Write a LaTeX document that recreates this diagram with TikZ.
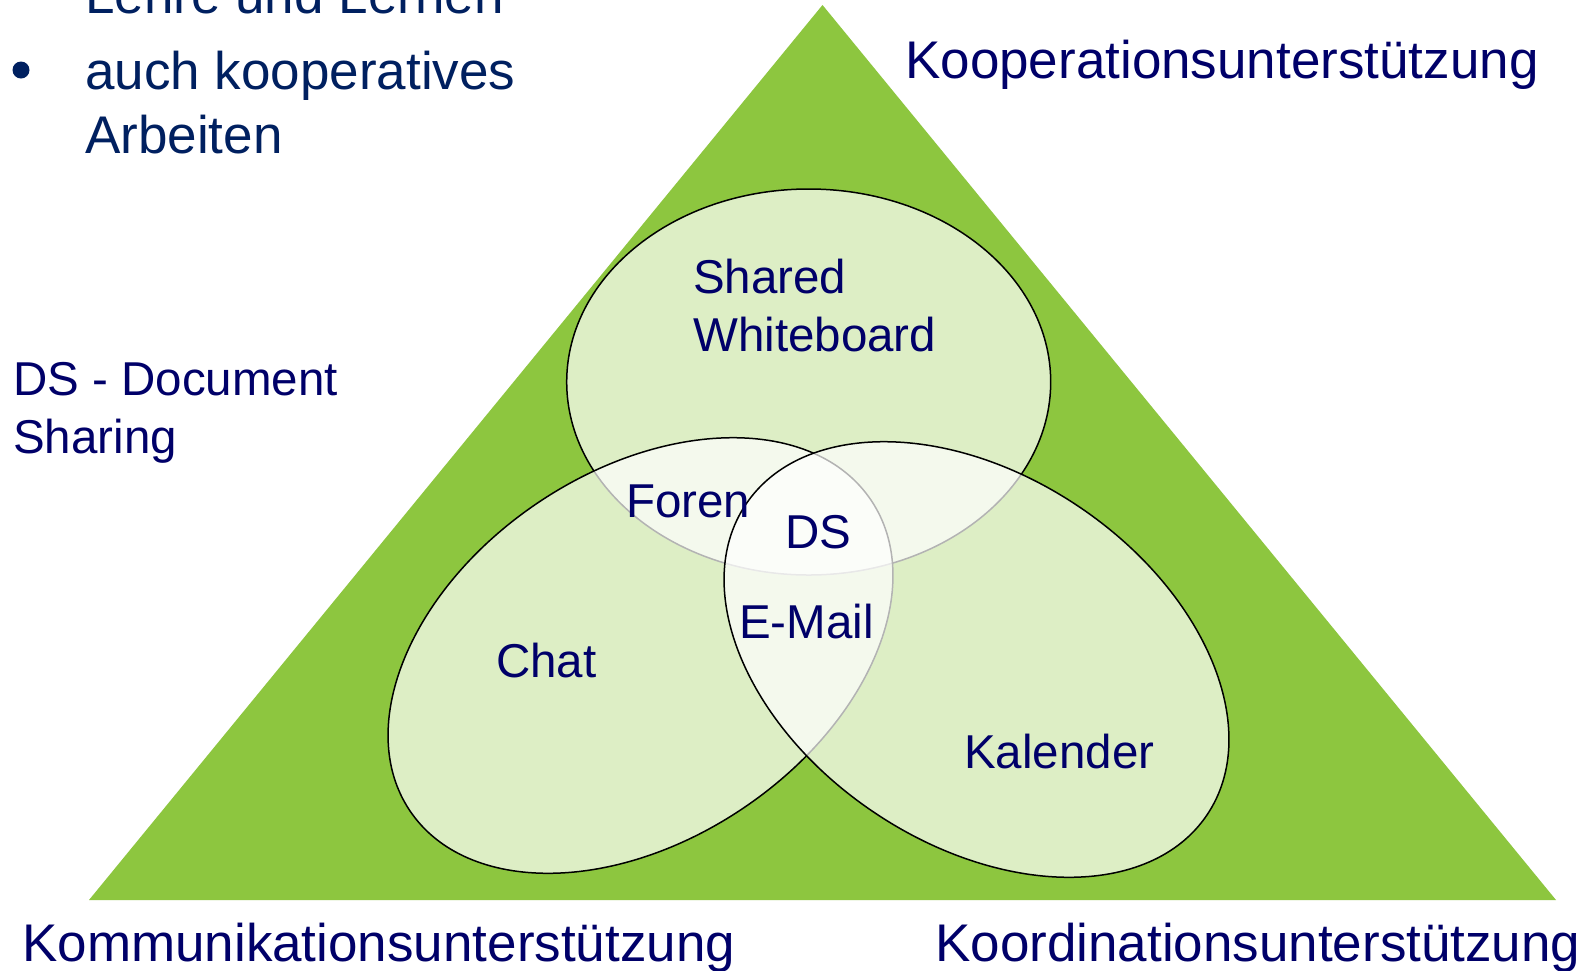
\documentclass[tikz,border=0pt]{standalone}
\usepackage{fontspec}
\setmainfont{Liberation Sans}
\definecolor{leafgreen}{RGB}{141,198,63}
\definecolor{navytext}{RGB}{0,0,105}
\definecolor{bullettext}{RGB}{0,32,96}
\begin{document}
\begin{tikzpicture}[x=1pt,y=-1pt,
  bigtxt/.style={inner sep=0pt, anchor=base west, text=navytext, font=\fontsize{53}{64}\selectfont},
  listtxt/.style={bigtxt, text=bullettext},
  midtxt/.style={inner sep=0pt, anchor=base west, text=navytext, font=\fontsize{47.5}{58}\selectfont},
  setshape/.style={fill=white, fill opacity=0.7, draw=black, line width=1.5pt}]
\useasboundingbox (0,0) rectangle (1586,970);
\clip (0,0) rectangle (1586,970);
\fill[white] (0,0) rectangle (1586,970);
% triangle
\fill[leafgreen] (89,900) -- (822.5,5) -- (1556,900) -- cycle;
% ellipses (order matters for the outline shading)
\path[setshape] (808.7,382) ellipse [x radius=242, y radius=193];
\path[setshape, shift={(640.5,655.5)}, rotate=34] (0,0) ellipse [x radius=278, y radius=184];
\path[setshape, shift={(976.5,659.5)}, rotate=-34] (0,0) ellipse [x radius=278, y radius=184];
% ellipse labels
\node[midtxt] (shared) at (693,293) {Shared};
\node[midtxt] (whiteboard) at (693,351) {Whiteboard};
\node[midtxt] (foren) at (626,517) {Foren};
\node[midtxt] (ds) at (785,548) {DS};
\node[midtxt] (email) at (739,638) {E-Mail};
\node[midtxt] (chat) at (496,677) {Chat};
\node[midtxt] (kalender) at (964,768) {Kalender};
% corner labels
\node[bigtxt] (koop) at (905,78) {Kooperationsunterstützung};
\node[bigtxt] (komm) at (22,961) {Kommunikationsunterstützung};
\node[bigtxt] (koord) at (935,961) {Koordinationsunterstützung};
% left texts
\node[listtxt] (lehre) at (85,13) {Lehre und Lernen};
\fill[bullettext] (21,70) circle [radius=8.5];
\node[listtxt] (auch) at (85,89) {auch kooperatives};
\node[listtxt] (arbeiten) at (85,153) {Arbeiten};
\node[midtxt] (dsdoc) at (13,395) {DS - Document};
\node[midtxt] (sharing) at (13,453) {Sharing};
\end{tikzpicture}
\end{document}
